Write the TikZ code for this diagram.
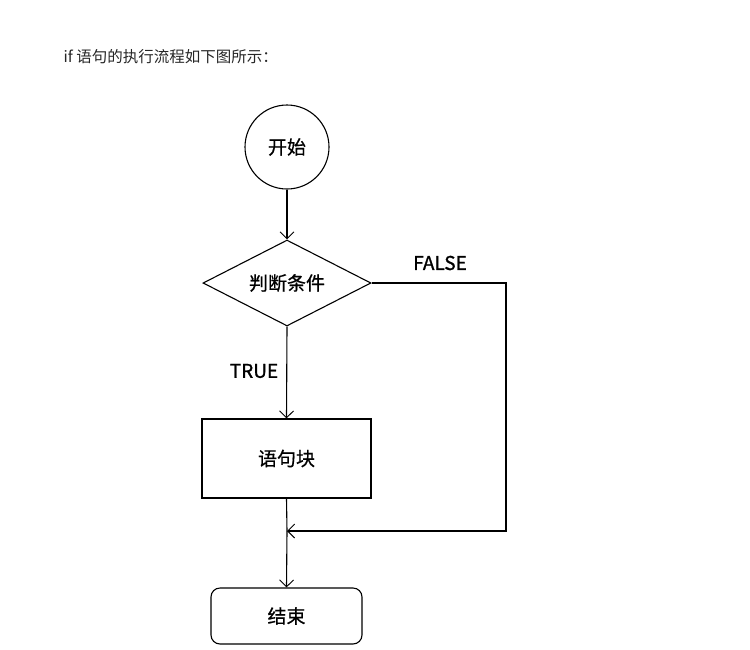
\documentclass[tikz,border=0pt]{standalone}
\usepackage{fontspec}
\setmainfont{Noto Sans CJK SC}
\newfontfamily\semib[FakeBold=1.2]{Noto Sans CJK SC}
\newfontfamily\medb[FakeBold=0.6]{Noto Sans CJK SC}
\usetikzlibrary{arrows.meta,shapes.geometric}
\begin{document}
\begin{tikzpicture}[x=1pt,y=-1pt,
  line/.style={draw=black,line width=1.1pt},
  arr/.style={line,-{Straight Barb[length=7pt,width=14pt,line width=0.9pt]}},
  lbl/.style={font=\medb\fontsize{19}{22}\selectfont},
  tf/.style={font=\semib\fontsize{19}{22}\selectfont}]
\useasboundingbox (0,0) rectangle (750,649);
\node[anchor=west,font=\fontsize{15.5}{18}\selectfont,text=black!85] (title) at (60,57) {if 语句的执行流程如下图所示：};
\node[line,circle,minimum size=84pt,inner sep=0pt,lbl] (start) at (287,147) {开始};
\node[line,diamond,minimum width=168pt,minimum height=86pt,aspect=2,inner sep=0pt,lbl] (cond) at (287,283) {判断条件};
\node[line,minimum width=169pt,minimum height=79pt,lbl] (block) at (286.5,458.5) {语句块};
\node[line,rounded corners=9pt,minimum width=151pt,minimum height=56pt,lbl] (end) at (286.5,616) {结束};
\coordinate (m) at (287,531);
\coordinate (r1) at (506,283);
\coordinate (r2) at (506,531);
\draw[arr] (start) -- (cond.north);
\draw[arr] (cond.south) -- (block.north);
\draw[arr] (cond.east) -- (r1) -- (r2) -- (m);
\draw[line] (block.south) -- (m);
\draw[arr] (m) -- (end.north);
\node[tf] (false) at (440,263) {FALSE};
\node[tf] (true) at (254,371) {TRUE};
\end{tikzpicture}
\end{document}
